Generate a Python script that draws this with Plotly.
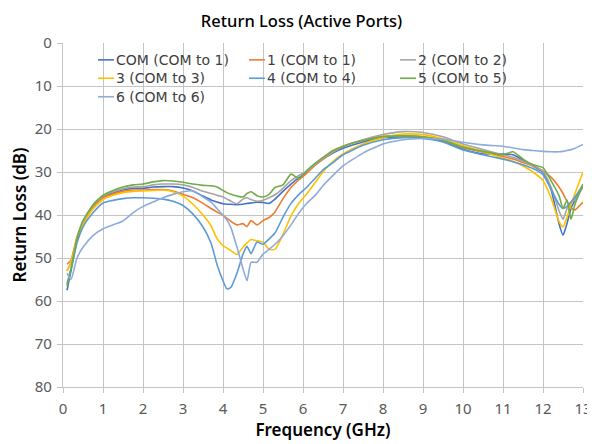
import plotly.graph_objects as go

freq_ghz = [0.1, 0.2, 0.35, 0.5, 0.75, 1.0, 1.25, 1.5, 1.75, 2.0, 2.25, 2.5, 2.75, 3.0, 3.25, 3.5,
            3.7, 3.85, 4.0, 4.1, 4.2, 4.35, 4.5, 4.6, 4.7, 4.85, 5.0, 5.15, 5.3, 5.5, 5.7, 5.9,
            6.1, 6.3, 6.5, 6.75, 7.0, 7.5, 8.0, 8.5, 9.0, 9.5, 10.0, 10.5, 11.0, 11.25, 11.5, 11.75,
            12.0, 12.2, 12.4, 12.5, 12.6, 12.7, 12.8, 13.0]

rl_com = [57.5, 53.0, 46.0, 41.8, 38.0, 35.8, 34.9, 34.2, 33.8, 33.8, 33.5, 33.4, 33.4, 33.7, 34.4, 35.6,
          36.5, 37.0, 37.4, 37.5, 37.5, 37.6, 37.5, 37.3, 37.2, 37.0, 37.1, 37.3, 36.3, 34.5, 32.8, 31.3,
          30.0, 28.4, 27.0, 25.6, 24.5, 23.0, 22.0, 21.9, 22.1, 22.9, 24.7, 25.8, 25.8, 26.0, 27.2, 28.6,
          30.0, 34.0, 42.0, 44.7, 42.0, 38.5, 36.5, 33.0]
rl_p1 = [51.4, 50.5, 45.0, 41.8, 38.2, 36.0, 35.1, 34.5, 34.2, 34.2, 34.1, 34.1, 34.4, 35.2, 36.0, 37.3,
         38.5, 39.3, 40.1, 40.8, 41.5, 42.3, 42.0, 42.7, 41.3, 42.3, 41.3, 40.6, 39.3, 36.2, 33.6, 31.8,
         30.2, 28.4, 27.0, 25.4, 24.0, 22.6, 21.7, 21.5, 21.8, 22.6, 24.3, 25.4, 26.4, 27.0, 27.8, 28.6,
         29.8, 31.2, 33.5, 35.0, 36.8, 38.4, 38.8, 37.0]
rl_p2 = [53.0, 51.0, 45.5, 41.5, 37.8, 35.6, 34.6, 33.9, 33.5, 33.4, 33.0, 32.8, 32.8, 33.0, 33.6, 34.5,
         35.0, 35.4, 35.8, 36.3, 36.8, 37.4, 36.3, 36.0, 36.4, 36.8, 36.6, 36.0, 35.3, 33.8, 32.0, 30.8,
         29.8, 28.2, 26.8, 25.3, 24.1, 22.5, 21.3, 20.6, 20.8, 21.8, 23.5, 24.8, 26.0, 26.6, 27.5, 28.5,
         29.8, 33.5, 39.0, 41.0, 38.5, 37.0, 36.5, 33.5]
rl_p3 = [53.0, 51.0, 45.5, 42.3, 38.6, 36.4, 35.4, 34.8, 34.5, 34.4, 34.3, 34.2, 34.6, 35.6, 37.5, 40.0,
         42.5, 45.5, 47.1, 47.7, 48.3, 49.2, 47.5, 46.5, 45.7, 46.0, 46.3, 48.0, 48.0, 44.5, 40.2, 37.2,
         35.0, 32.5, 30.0, 27.5, 25.8, 23.5, 22.0, 21.2, 21.3, 22.3, 23.9, 25.3, 26.8, 27.5, 28.6, 30.0,
         32.0, 36.0, 41.5, 42.8, 40.5, 37.5, 35.0, 30.0]
rl_p4 = [56.0, 52.5, 46.5, 42.8, 39.5, 37.2, 36.6, 36.2, 36.0, 36.0, 36.1, 36.3, 36.8, 37.8, 39.8, 42.8,
         46.5, 51.5, 55.3, 57.2, 56.8, 53.5, 49.1, 47.3, 49.0, 46.3, 46.8, 45.6, 44.2, 40.5, 37.3, 35.2,
         33.5, 31.5, 29.5, 27.8, 26.0, 23.8, 22.5, 22.0, 22.2, 23.0, 24.9, 26.0, 27.0, 27.6, 28.3, 29.2,
         30.6, 34.0, 37.5, 38.5, 38.0, 37.0, 35.8, 33.0]
rl_p5 = [56.5, 52.5, 45.5, 41.3, 37.6, 35.4, 34.3, 33.5, 33.0, 32.8, 32.3, 32.0, 32.1, 32.4, 32.8, 33.1,
         33.2, 33.5, 34.3, 34.8, 35.2, 35.6, 35.8, 35.0, 34.6, 35.5, 35.8, 35.2, 33.6, 33.0, 30.5, 31.5,
         29.6, 28.0, 26.6, 25.0, 24.0, 22.6, 21.8, 21.6, 21.8, 22.6, 24.2, 25.2, 26.0, 25.3, 27.0, 28.3,
         29.0, 32.0, 35.5, 38.5, 36.5, 41.0, 37.5, 32.8]
rl_p6 = [53.5, 55.0, 50.0, 47.5, 44.8, 43.2, 42.3, 41.4, 39.5, 38.0, 37.0, 36.0, 35.2, 34.6, 34.4, 35.8,
         37.0, 38.5, 40.1, 41.2, 43.0, 47.5, 52.5, 55.3, 51.0, 51.0, 49.1, 48.0, 46.8, 44.8, 42.3, 39.5,
         37.2, 35.5, 33.2, 30.8, 28.6, 25.6, 23.5, 22.5, 22.2, 22.4, 23.1, 23.7, 24.0, 24.4, 24.8, 25.0,
         25.2, 25.3, 25.3, 25.2, 25.0, 24.8, 24.5, 23.6]

series_names = ["COM (COM to 1)", "1 (COM to 1)", "2 (COM to 2)", "3 (COM to 3)",
                "4 (COM to 4)", "5 (COM to 5)", "6 (COM to 6)"]
series_values = [rl_com, rl_p1, rl_p2, rl_p3, rl_p4, rl_p5, rl_p6]
series_colors = ["#4472C4", "#ED7D31", "#A5A5A5", "#FFC000", "#5B9BD5", "#70AD47", "#8FAADC"]

x_ticks = list(range(0, 14))
y_ticks = list(range(0, 81, 10))

FONT = "Noto Sans"
LEG_FONT = "DejaVu Sans"
fig = go.Figure()
for name, vals, col in zip(series_names, series_values, series_colors):
    fig.add_trace(go.Scatter(x=freq_ghz, y=vals, mode="lines", name=name, showlegend=False,
                             line=dict(color=col, width=1.6, shape="spline", smoothing=0.5)))

# Legend drawn in paper coordinates (3 columns, white box over the grid)
leg_cols_line = [(0.0673, 0.0981), (0.3577, 0.3885), (0.6481, 0.6788)]
leg_cols_text = [0.1000, 0.3904, 0.6808]
leg_rows = [0.951, 0.8975, 0.8438]
shapes = [dict(type="rect", xref="paper", yref="paper", x0=0.0558, x1=0.954, y0=0.814, y1=0.9797,
               fillcolor="white", line=dict(width=0), layer="between")]
annotations = []
for i, (name, col) in enumerate(zip(series_names, series_colors)):
    r, c = divmod(i, 3)
    x0, x1 = leg_cols_line[c]
    yy = leg_rows[r]
    shapes.append(dict(type="line", xref="paper", yref="paper", x0=x0, x1=x1, y0=yy, y1=yy,
                       line=dict(color=col, width=1.6), layer="above"))
    annotations.append(dict(text=name, xref="paper", yref="paper", x=leg_cols_text[c], y=yy,
                            xanchor="left", yanchor="middle", showarrow=False, borderpad=0,
                            font=dict(family=LEG_FONT, size=14, color="#404040")))

grid = "#c4c4c4"
fig.update_layout(
    width=587, height=436,
    margin=dict(l=55, r=12, t=35, b=57, autoexpand=False),
    paper_bgcolor="white", plot_bgcolor="white",
    font=dict(family=FONT, size=15, color="#595959"),
    title=dict(text="Return Loss (Active Ports)", x=0.5, xanchor="center", y=0.969, yanchor="middle",
               font=dict(family=FONT, size=16.5, color="#000000", weight=500)),
    shapes=shapes, annotations=annotations,
    showlegend=False,
)
fig.update_xaxes(range=[0, 13], tickvals=x_ticks, showgrid=True, gridcolor=grid, gridwidth=1.4,
                 zeroline=False, showline=True, linecolor=grid, linewidth=1.4, mirror=False,
                 ticks="outside", ticklen=5, tickcolor=grid, tickwidth=1.4, automargin=False,
                 ticklabelstandoff=3,
                 title=dict(text="Frequency (GHz)", font=dict(family=FONT, size=17, color="#000000", weight=600),
                            standoff=6),
                 tickfont=dict(size=15, color="#595959"))
fig.update_yaxes(range=[80, 0], tickvals=y_ticks, showgrid=True, gridcolor=grid, gridwidth=1.4,
                 zeroline=False, showline=True, linecolor=grid, linewidth=1.4, automargin=False,
                 ticks="outside", ticklen=5, tickcolor=grid, tickwidth=1.4, ticklabelstandoff=2,
                 title=dict(text="Return Loss (dB)", font=dict(family=FONT, size=17, color="#000000", weight=600),
                            standoff=8),
                 tickfont=dict(size=15, color="#595959"))

fig.write_html("out.html")
